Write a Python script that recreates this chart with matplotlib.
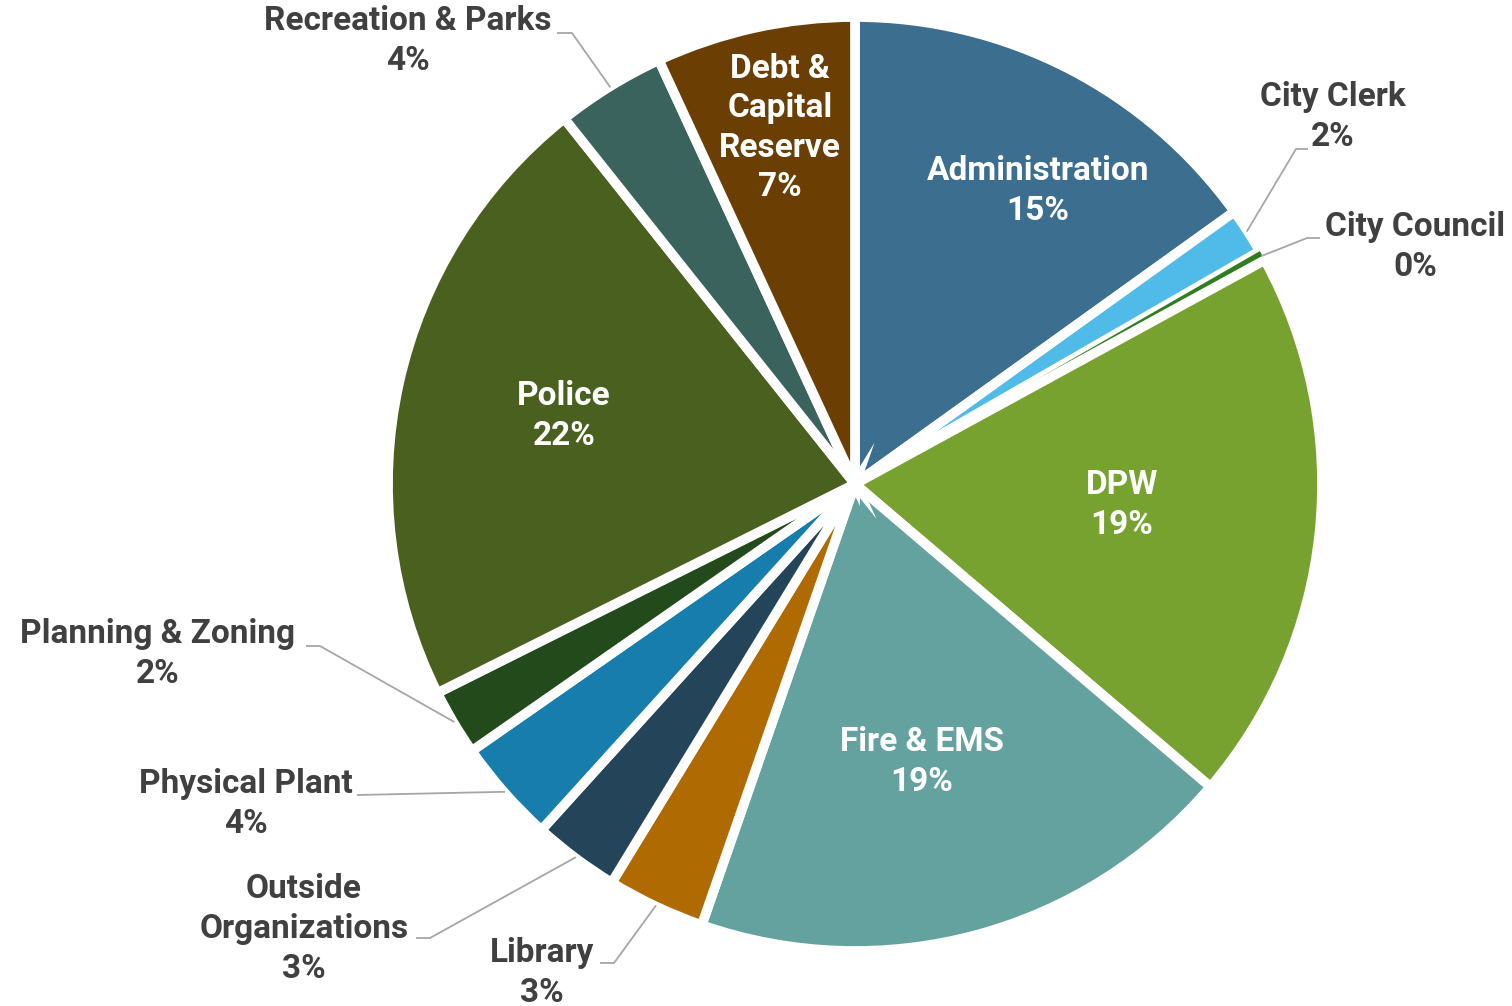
import numpy as np
import matplotlib.pyplot as plt

# budget share by department, clockwise from 12 o'clock
departments = ['Administration', 'City Clerk', 'City Council', 'DPW', 'Fire & EMS',
               'Library', 'Outside\nOrganizations', 'Physical Plant', 'Planning & Zoning',
               'Police', 'Recreation & Parks', 'Debt &\nCapital\nReserve']
shares = [15.1, 1.6, 0.35, 19.2, 19.1, 3.4, 3.0, 3.6, 2.3, 21.7, 3.8, 6.9]
colors = ['#3C6E8F', '#50BAE8', '#2F7D1F', '#78A22F', '#64A29F', '#B06A02',
          '#244559', '#167DAC', '#224A1A', '#4A601F', '#3A635E', '#6B3F03']

W, H = 1512, 1006
cx, cy, R = 855, 484, 467  # pie centre / radius in image pixels

# label layout in image pixels: (x, y, inside?, leader elbow, leader end)
layout = {
    'Administration': (1038, 191, True, None, None),
    'City Clerk': (1333, 117, False, (1296, 149), (1308, 149)),
    'City Council': (1415, 247, False, (1307, 238), (1320, 238)),
    'DPW': (1122, 505, True, None, None),
    'Fire & EMS': (922, 762, True, None, None),
    'Library': (542, 973, False, (614, 963), (600, 963)),
    'Outside\nOrganizations': (304, 929, False, (430, 938), (416, 938)),
    'Physical Plant': (246, 804, False, (357, 795), (357, 795)),
    'Planning & Zoning': (158, 654, False, (320, 646), (306, 646)),
    'Police': (564, 416, True, None, None),
    'Recreation & Parks': (408, 41, False, (572, 33), (557, 33)),
    'Debt &\nCapital\nReserve': (780, 128, True, None, None),
}

font = ['Roboto', 'DejaVu Sans']

fig = plt.figure(figsize=(W / 100, H / 100), dpi=100)
ax = fig.add_axes([0, 0, 1, 1])
ax.set_xlim(0, W)
ax.set_ylim(0, H)
ax.set_aspect('equal')
ax.axis('off')

wedges, _ = ax.pie(shares, colors=colors, startangle=90, counterclock=False,
                   center=(cx, H - cy), radius=R,
                   wedgeprops=dict(edgecolor='white', linewidth=7))
# the tiny council slice would vanish under its own white edge
wedges[2].set_linewidth(0)
ax.set_xlim(0, W)
ax.set_ylim(0, H)

total = sum(shares)
for w, name, v in zip(wedges, departments, shares):
    x, y, inside, elbow, end = layout[name]
    txt = f'{name}\n{round(v / total * 100)}%'
    ax.text(x, H - y, txt, ha='center', va='center', fontsize=24, fontweight='bold',
            family=font, color='white' if inside else '#404040', linespacing=1.3)
    if not inside:
        mid = np.deg2rad((w.theta1 + w.theta2) / 2)
        sx = cx + (R - 1) * np.cos(mid)
        sy = (H - cy) + (R - 1) * np.sin(mid)
        ax.plot([sx, elbow[0], end[0]], [sy, H - elbow[1], H - end[1]],
                color='#A6A6A6', lw=1.3, solid_capstyle='butt')

fig.savefig('out.png', dpi=100)
